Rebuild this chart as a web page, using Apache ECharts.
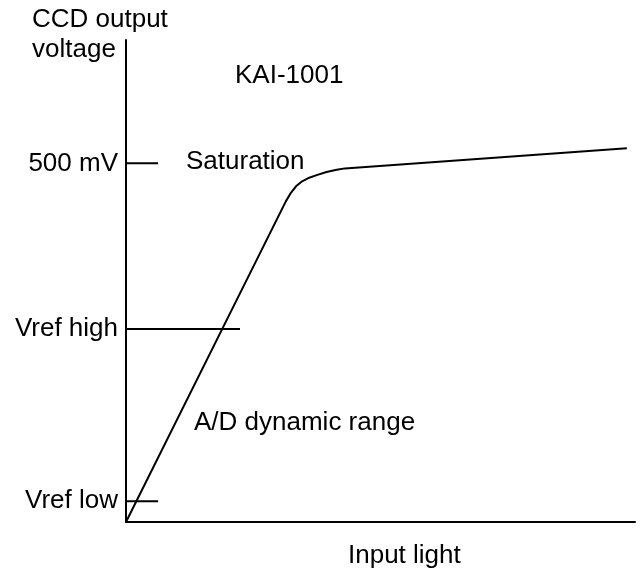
<!DOCTYPE html>
<html>
<head>
<meta charset="utf-8">
<script src="https://cdn.jsdelivr.net/npm/echarts@6/dist/echarts.min.js"></script>
<style>html,body{margin:0;padding:0;background:#fff}#c{width:642px;height:572px}</style>
</head>
<body>
<div id="c"></div>
<script>
// Response curve (input light in %, output in mV)
const curveX = [0, 31.4, 32.4, 33.4, 34.6, 36.0, 37.6, 39.4, 41.4, 43.0, 98.4];
const curveY = [0, 447, 459, 468, 475, 480, 484, 488, 491, 493, 521];
// Y-axis reference ticks
const tickLabels = ['Vref low', 'Vref high', '500 mV'];
const tickValues = [29, 269, 500];
const tickLengths = [6.3, 22.4, 6.3];
// Annotations
const yTitle = 'CCD output\nvoltage';
const xTitle = 'Input light';
const chartTitle = 'KAI-1001';
const satLabel = 'Saturation';
const rangeLabel = 'A/D dynamic range';

const FONT = '"Liberation Sans", Arial, sans-serif';
const FS = 26;

const chart = echarts.init(document.getElementById('c'), null, {renderer: 'canvas'});
const series = [{
  type: 'line',
  data: curveX.map((x, i) => [x, curveY[i]]),
  symbol: 'none',
  lineStyle: {color: '#000', width: 2, join: 'round'},
  silent: true,
  z: 3
}];
tickValues.forEach((v, i) => {
  series.push({
    type: 'line',
    data: [[0, v], [tickLengths[i], v]],
    symbol: 'none',
    lineStyle: {color: '#000', width: 2},
    silent: true
  });
});

function txt(x, y, s, align) {
  return {type: 'text', x: x, y: y, style: {text: s, fill: '#000', font: FS + 'px ' + FONT, textAlign: align || 'left', textVerticalAlign: 'middle', lineHeight: 30}};
}

chart.setOption({
  animation: false,
  backgroundColor: '#fff',
  grid: {left: 126, right: 7, top: 40, bottom: 50, containLabel: false},
  xAxis: {type: 'value', min: 0, max: 100, axisLine: {show: true, lineStyle: {color: '#000', width: 2}}, axisTick: {show: false}, axisLabel: {show: false}, splitLine: {show: false}},
  yAxis: {
    type: 'value', min: 0, max: 672,
    axisLine: {show: true, lineStyle: {color: '#000', width: 2}},
    axisTick: {show: false},
    axisLabel: {
      show: true,
      customValues: tickValues,
      formatter: (v) => { const i = tickValues.indexOf(v); return i >= 0 ? tickLabels[i] : ''; },
      color: '#000', fontFamily: FONT, fontSize: FS, margin: 8,
      padding: [4, 0, 0, 0]
    },
    splitLine: {show: false}
  },
  series: series,
  graphic: [
    txt(32, 35, yTitle),
    txt(235, 76, chartTitle),
    txt(186, 162, satLabel),
    txt(194, 423, rangeLabel),
    txt(348, 556, xTitle)
  ]
});
</script>
</body>
</html>
